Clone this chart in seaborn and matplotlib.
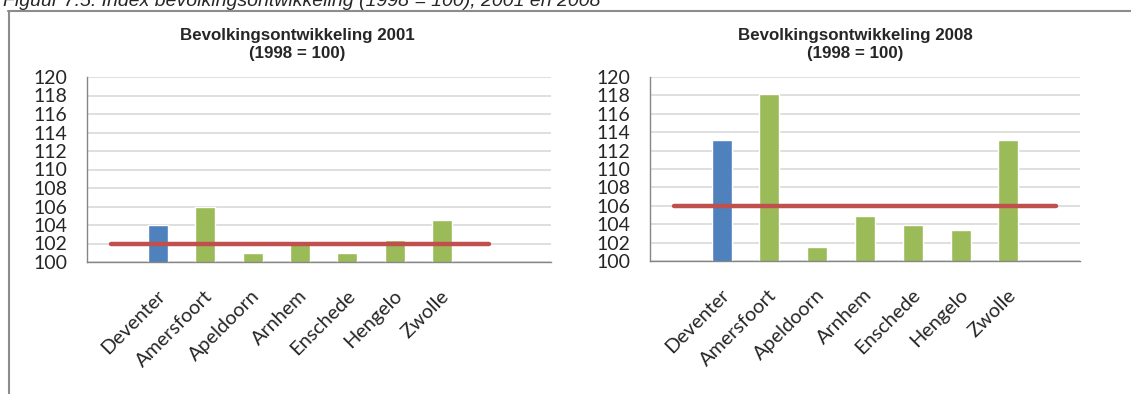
import numpy as np
import pandas as pd
import matplotlib.pyplot as plt
import matplotlib.transforms as mtransforms
import seaborn as sns
from matplotlib.lines import Line2D

cities = ["Deventer", "Amersfoort", "Apeldoorn", "Arnhem", "Enschede", "Hengelo", "Zwolle"]
index_2001 = [104.0, 106.0, 101.0, 101.9, 101.0, 102.4, 104.5]
index_2008 = [113.1, 118.1, 101.5, 104.9, 103.9, 103.4, 113.1]
avg_2001 = 102.0
avg_2008 = 106.0
yticks = list(range(100, 121, 2))

BLUE = "#4F81BD"
GREEN = "#9BBB59"
RED = "#C0504D"
bar_colors = [BLUE] + [GREEN] * (len(cities) - 1)

sns.set_style("white")
plt.rcParams["font.family"] = ["Lato", "DejaVu Sans"]

fig = plt.figure(figsize=(11.31, 3.94), dpi=100)
W, H = 1131, 394


def px_axes(left, top, right, bottom):
    return fig.add_axes([left / W, 1 - bottom / H, (right - left) / W, (bottom - top) / H])


panels = [
    (index_2001, avg_2001, "Bevolkingsontwikkeling 2001\n(1998 = 100)", (87, 77, 551, 262), 297, 8.3),
    (index_2008, avg_2008, "Bevolkingsontwikkeling 2008\n(1998 = 100)", (650, 77, 1080, 261), 855, 7.5),
]

label_shift = mtransforms.ScaledTranslation(0.045, -0.02, fig.dpi_scale_trans)

for values, avg, title, box, title_x, xmax in panels:
    ax = px_axes(*box)
    df = pd.DataFrame({"stad": cities, "index": values})
    sns.barplot(data=df, x="stad", y="index", hue="stad", palette=bar_colors,
                saturation=1, width=0.42, legend=False, ax=ax, zorder=2)
    # average line runs from one empty slot before the first city to one after the last
    line_x = np.arange(-1, len(cities) + 1)
    sns.lineplot(x=line_x, y=[avg] * len(line_x), color=RED, linewidth=3.2,
                 ax=ax, zorder=3, solid_capstyle="round")
    ax.set_xlim(-1.5, xmax)
    ax.set_ylim(100, 120)
    ax.set_yticks(yticks)
    ax.yaxis.grid(True, color="#D9D9D9", linewidth=1.2, zorder=0)
    ax.set_axisbelow(True)
    ax.set_xlabel("")
    ax.set_ylabel("")
    for s in ["top", "right"]:
        ax.spines[s].set_visible(False)
    for s in ["left", "bottom"]:
        ax.spines[s].set_color("#868686")
        ax.spines[s].set_linewidth(1.0)
    ax.tick_params(axis="y", length=0, pad=14, labelsize=14)
    ax.tick_params(axis="x", length=0, pad=21, labelsize=14.3)
    ax.set_xticks(range(len(cities)))
    ax.set_xticklabels(cities, rotation=45, ha="right", va="center", rotation_mode="anchor")
    for lab in ax.get_xticklabels():
        lab.set_transform(lab.get_transform() + label_shift)
    fig.text(title_x / W, 1 - 44.5 / H, title, ha="center", va="center",
             fontsize=12.2, fontweight="bold", family=["Liberation Sans", "DejaVu Sans"],
             linespacing=1.3)

# partial caption at the top, clipped by the image edge as in the source
fig.text(3 / W, 1 - 6 / H, "Figuur 7.5: Index bevolkingsontwikkeling (1998 = 100), 2001 en 2008",
         ha="left", va="baseline", fontsize=14, style="italic",
         family=["Liberation Sans", "DejaVu Sans"])

# frame lines (top and left)
fig.add_artist(Line2D([8 / W, 1], [1 - 10.5 / H] * 2, color="#8C8C8C", linewidth=1.5,
                      transform=fig.transFigure))
fig.add_artist(Line2D([8.5 / W] * 2, [1 - 10.5 / H, 0], color="#8C8C8C", linewidth=1.5,
                      transform=fig.transFigure))

fig.savefig("out.png", dpi=100, facecolor="white")
